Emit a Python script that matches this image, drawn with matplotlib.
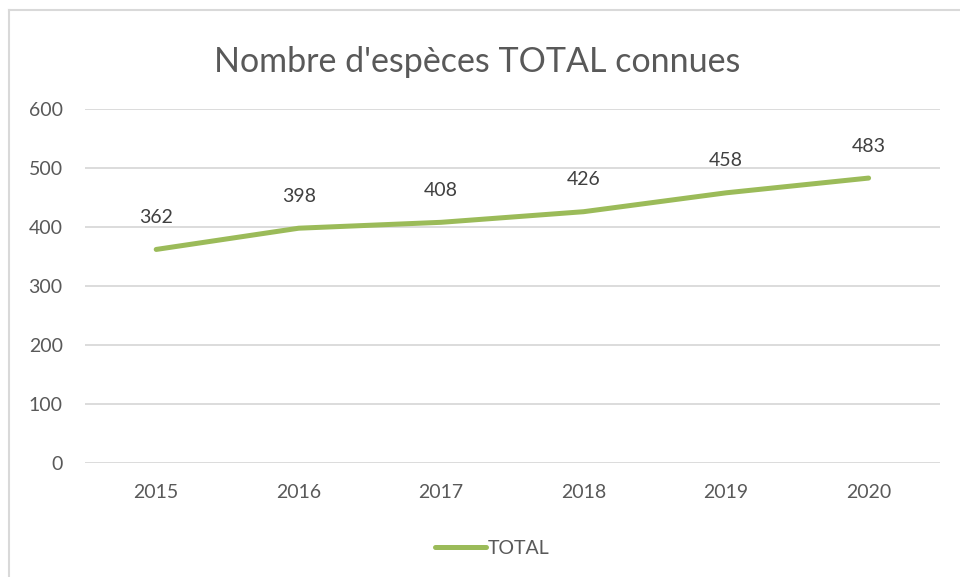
import matplotlib.pyplot as plt
from matplotlib.lines import Line2D

years = ['2015', '2016', '2017', '2018', '2019', '2020']
total = [362, 398, 408, 426, 458, 483]
y_ticks = [0, 100, 200, 300, 400, 500, 600]

green = '#9BBB59'
grey_txt = '#595959'

plt.rcParams['font.family'] = ['Lato', 'DejaVu Sans']

fig = plt.figure(figsize=(9.6, 5.77), dpi=100)
ax = fig.add_axes([0.0885, 0.1976, 0.8905, 0.6134])

x = list(range(len(years)))
ax.plot(x, total, color=green, lw=3.6, solid_capstyle='round', label='TOTAL')

# data labels above each point
for i, v in enumerate(total):
    ax.annotate(str(v), (i, v), xytext=(0, 23), textcoords='offset points',
                ha='center', va='center', fontsize=14, color='#404040')

ax.set_xlim(-0.5, len(years) - 0.5)
ax.set_ylim(0, 600)
ax.set_yticks(y_ticks)
ax.set_xticks(x)
ax.set_xticklabels(years)
ax.tick_params(length=0, labelsize=14, labelcolor=grey_txt)
ax.tick_params(axis='x', pad=15)
ax.tick_params(axis='y', pad=16)
ax.grid(axis='y', color='#D9D9D9', lw=1.3)
ax.set_axisbelow(True)
for s in ax.spines.values():
    s.set_visible(False)

fig.text(0.497, 0.892, "Nombre d'espèces TOTAL connues", ha='center', va='center',
         fontsize=24.5, color=grey_txt)

handle = Line2D([], [], color=green, lw=3.6, solid_capstyle='round')
fig.legend([handle], ['TOTAL'], loc='center', bbox_to_anchor=(0.513, 0.05), frameon=False,
           fontsize=14, labelcolor=grey_txt, handlelength=2.6, handletextpad=0.1)

# chart area border (only top/left visible in the crop)
fig.add_artist(Line2D([0.0094, 0.0094], [0, 0.983], transform=fig.transFigure,
                      color='#D9D9D9', lw=1.5))
fig.add_artist(Line2D([0.0094, 1], [0.983, 0.983], transform=fig.transFigure,
                      color='#D9D9D9', lw=1.5))

fig.savefig('out.png', dpi=100)
